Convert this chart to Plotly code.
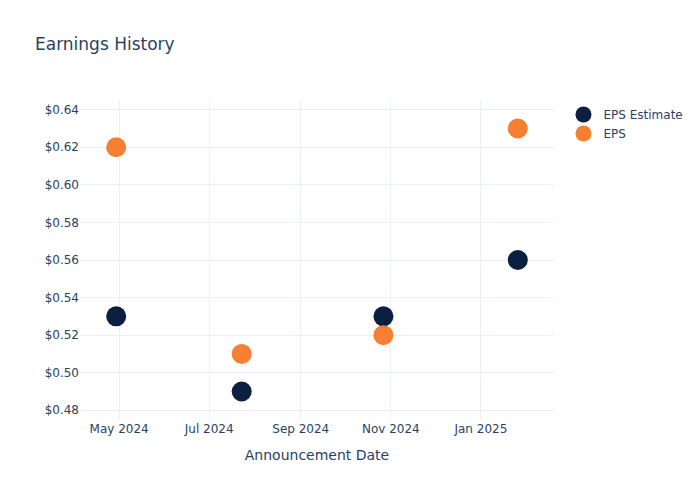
import plotly.graph_objects as go

# Announcement dates and values
dates = ["2024-04-29", "2024-07-23", "2024-10-27", "2025-01-26"]
eps_estimate = [0.53, 0.49, 0.53, 0.56]
eps_actual = [0.62, 0.51, 0.52, 0.63]

fig = go.Figure()
fig.add_trace(go.Scatter(
    x=dates, y=eps_estimate, mode="markers", name="EPS Estimate",
    marker=dict(color="#0b1f41", size=20)
))
fig.add_trace(go.Scatter(
    x=dates, y=eps_actual, mode="markers", name="EPS",
    marker=dict(color="#f58033", size=20)
))

fig.update_layout(
    template="plotly_white",
    width=700, height=500,
    font=dict(family="DejaVu Sans"),
    title=dict(text="Earnings History"),
    xaxis=dict(title="Announcement Date", tickformat="%b %Y", dtick="M2"),
    yaxis=dict(tickprefix="$", tickformat=".2f"),
)

# page margin off so the figure sits at the window corner
fig.write_html("out.html", config={"displayModeBar": False},
               post_script="document.body.style.margin='0';")
